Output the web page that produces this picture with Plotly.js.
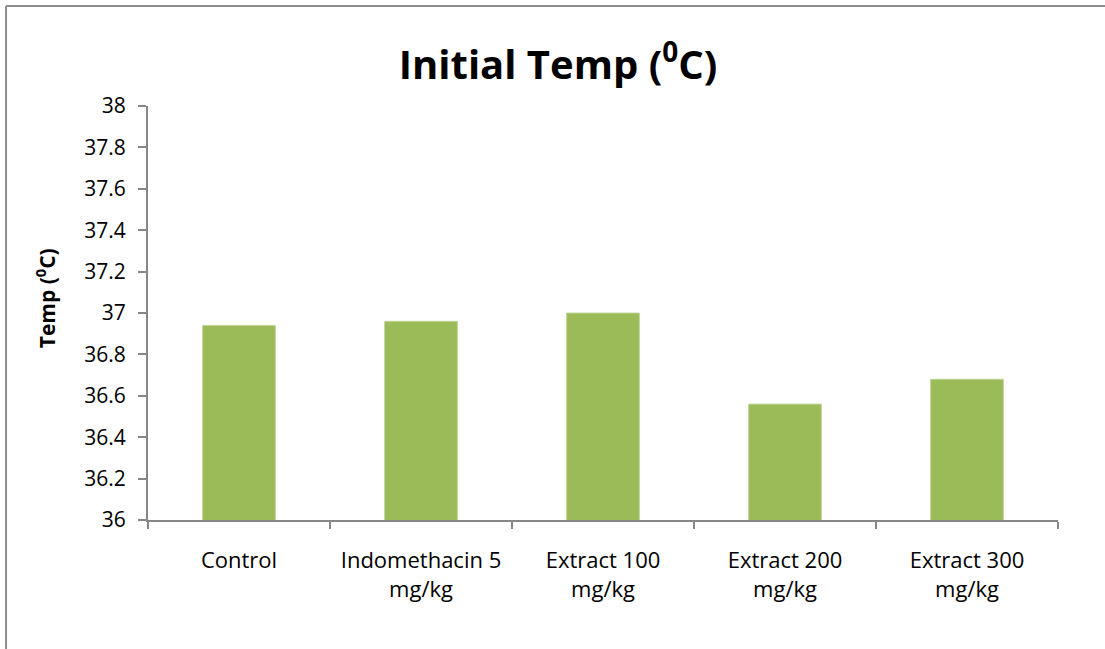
<!DOCTYPE html>
<html>
<head>
<meta charset="utf-8">
<script src="https://cdn.plot.ly/plotly-3.0.1.min.js"></script>
<style>html,body{margin:0;padding:0;background:#fff;}#chart{width:1105px;height:649px;}</style>
</head>
<body>
<div id="chart"></div>
<script>
var categories = ["Control", "Indomethacin 5<br>mg/kg", "Extract 100<br>mg/kg", "Extract 200<br>mg/kg", "Extract 300<br>mg/kg"];
var temps = [36.94, 36.96, 37.0, 36.56, 36.68];
var yTicks = [36, 36.2, 36.4, 36.6, 36.8, 37, 37.2, 37.4, 37.6, 37.8, 38];
var yTickText = ["36", "36.2", "36.4", "36.6", "36.8", "37", "37.2", "37.4", "37.6", "37.8", "38"];
var yTitle = "<b>Temp (<sup>0</sup>C)</b>";

var font = "'Open Sans', Lato, sans-serif";
var axisColor = "#878787";

var trace = {
  type: "bar",
  x: categories,
  y: temps,
  marker: {color: "#9bbb59", line: {color: "#c3d69b", width: 1}},
  width: 0.4,
  hoverinfo: "x+y"
};

var layout = {
  width: 1105,
  height: 649,
  margin: {l: 148, r: 47, t: 106, b: 129},
  paper_bgcolor: "#ffffff",
  plot_bgcolor: "#ffffff",
  showlegend: false,
  title: {
    text: "<b>Initial Temp (<sup>0</sup>C)</b>",
    font: {family: font, size: 40, color: "#000"},
    x: 0.505, xanchor: "center",
    y: 0.9, yanchor: "middle"
  },
  xaxis: {
    type: "category",
    showline: true, linecolor: axisColor, linewidth: 2,
    ticks: "outside", tickson: "boundaries", ticklen: 7, tickcolor: axisColor, tickwidth: 2,
    tickfont: {family: font, size: 22, color: "#000"},
    ticklabelstandoff: 20,
    showgrid: false, zeroline: false,
    fixedrange: true
  },
  yaxis: {
    range: [36, 38],
    tickvals: yTicks, ticktext: yTickText,
    showline: true, linecolor: axisColor, linewidth: 2,
    ticks: "outside", ticklen: 8, tickcolor: axisColor, tickwidth: 2,
    tickfont: {family: font, size: 21, color: "#000"},
    ticklabelstandoff: 8,
    showgrid: false, zeroline: false,
    fixedrange: true
  },
  annotations: [
    {text: yTitle, xref: "paper", yref: "paper", x: -0.113, y: 0.536, xanchor: "center", yanchor: "middle",
     textangle: -90, showarrow: false, font: {family: font, size: 21, color: "#000"}}
  ],
  shapes: [
    {type: "line", xref: "paper", yref: "paper", x0: -0.156, x1: -0.156, y0: -0.35, y1: 1.2415, line: {color: "#8c8c8c", width: 2}},
    {type: "line", xref: "paper", yref: "paper", x0: -0.156, x1: 1.1, y0: 1.2415, y1: 1.2415, line: {color: "#8c8c8c", width: 2}}
  ]
};

Plotly.newPlot("chart", [trace], layout, {displayModeBar: false, staticPlot: true});
</script>
</body>
</html>
